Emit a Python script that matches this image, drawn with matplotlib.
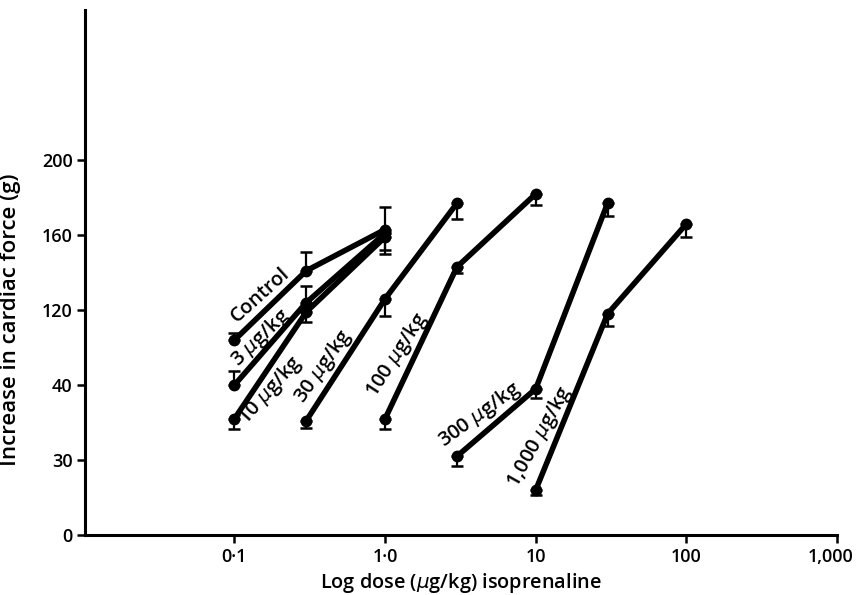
import numpy as np
import matplotlib.pyplot as plt
import matplotlib.transforms as mtransforms

plt.rcParams['font.family'] = ['Open Sans', 'DejaVu Sans']

# dose of isoprenaline (ug/kg) and increase in force (g) for each pretreatment
control_x = [0.1, 0.3, 1.0]
control_y = [104, 141, 163]
control_lo = [0, 0, 0]
control_hi = [3.7, 10, 12]

d3_x = [0.1, 0.3, 1.0]
d3_y = [80, 124, 161]
d3_lo = [0, 0, 11]
d3_hi = [7.5, 9, 0]

d10_x = [0.1, 0.3, 1.0]
d10_y = [62, 119, 159]
d10_lo = [5.3, 5.3, 7]
d10_hi = [0, 0, 0]

d30_x = [0.3, 1.0, 3.0]
d30_y = [61, 126, 177]
d30_lo = [3.7, 9, 8.5]
d30_hi = [0, 0, 0]

d100_x = [1.0, 3.0, 10.0]
d100_y = [62, 143, 182]
d100_lo = [5.3, 3.2, 6]
d100_hi = [0, 0, 0]

d300_x = [3.0, 10.0, 30.0]
d300_y = [42, 78, 177]
d300_lo = [5.3, 5, 7]
d300_hi = [0, 0, 0]

d1000_x = [10.0, 30.0, 100.0]
d1000_y = [24, 118, 166]
d1000_lo = [2.7, 6.4, 7]
d1000_hi = [0, 0, 0]

series = [
    (control_x, control_y, control_lo, control_hi),
    (d3_x, d3_y, d3_lo, d3_hi),
    (d10_x, d10_y, d10_lo, d10_hi),
    (d30_x, d30_y, d30_lo, d30_hi),
    (d100_x, d100_y, d100_lo, d100_hi),
    (d300_x, d300_y, d300_lo, d300_hi),
    (d1000_x, d1000_y, d1000_lo, d1000_hi),
]

labels = ['Control', '3 $\\mu$g/kg', '10 $\\mu$g/kg', '30 $\\mu$g/kg',
          '100 $\\mu$g/kg', '300 $\\mu$g/kg', '1,000 $\\mu$g/kg']
label_x = [0.149, 0.149, 0.173, 0.39, 1.21, 4.23, 10.6]
label_y = [128, 105, 76.8, 90, 96, 64, 52.3]
label_rot = [42, 44, 48, 55, 57, 36, 61]

yticks = [0, 40, 80, 120, 160, 200]
ytick_labels = ['0', '30', '40', '120', '160', '200']
xticks = [0.1, 1, 10, 100, 1000]
xtick_labels = ['0·1', '1·0', '10', '100', '1,000']

fig = plt.figure(figsize=(8.57, 5.95), dpi=100)
ax = fig.add_axes([0.0992, 0.1008, 0.8775, 0.882])

for x, y, lo, hi in series:
    ax.errorbar(x, y, yerr=[lo, hi], fmt='none', ecolor='black',
                elinewidth=1.6, capsize=4, capthick=1.8, zorder=2)
    ax.plot(x, y, color='black', lw=4, marker='o', ms=7.5,
            solid_capstyle='round', zorder=3)

for t, lx, ly, r in zip(labels, label_x, label_y, label_rot):
    ax.text(lx, ly, t, rotation=r, ha='center', va='center',
            fontsize=14.5, fontweight='semibold', rotation_mode='anchor')

ax.set_xscale('log')
ax.set_xlim(0.0102, 1000)
ax.set_ylim(0, 280)
ax.set_xticks(xticks)
ax.set_xticklabels(xtick_labels)
ax.minorticks_off()
ax.set_yticks(yticks)
ax.set_yticklabels(ytick_labels)

for s in ['top', 'right']:
    ax.spines[s].set_visible(False)
for s in ['left', 'bottom']:
    ax.spines[s].set_linewidth(2.2)
ax.tick_params(width=1.8, length=6, labelsize=13, pad=3)
for lab in ax.get_xticklabels() + ax.get_yticklabels():
    lab.set_fontweight('semibold')
# nudge the last tick label so it stays inside the figure
last = ax.get_xticklabels()[-1]
last.set_transform(last.get_transform() +
                   mtransforms.ScaledTranslation(-5 / 72, 0, fig.dpi_scale_trans))

ax.set_xlabel('Log dose ($\\mu$g/kg) isoprenaline', fontsize=14.3,
              fontweight='semibold', labelpad=4)
ax.set_ylabel('Increase in cardiac force (g)', fontsize=16,
              fontweight='semibold')
ax.yaxis.set_label_coords(-0.085, 0.41)

fig.savefig('out.png', dpi=100)
